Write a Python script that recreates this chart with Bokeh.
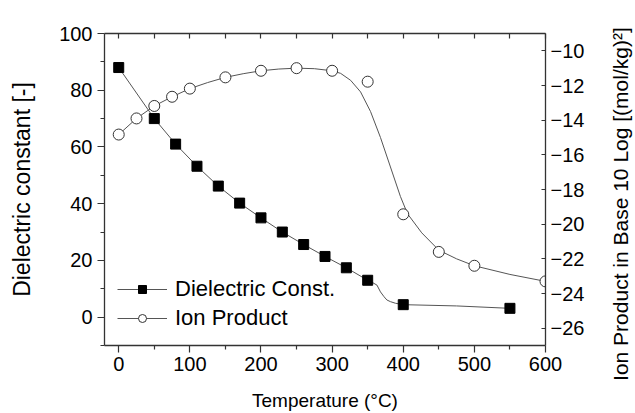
from bokeh.plotting import figure
from bokeh.layouts import row
from bokeh.models import Range1d, LinearAxis, FixedTicker, Legend, LegendItem
from bokeh.embed import file_html
from bokeh.resources import INLINE

# measured data points
temp_diel = [0, 50, 80, 110, 140, 170, 200, 230, 260, 290, 320, 350, 400, 550]
diel_const = [88, 70, 61, 53.2, 46.2, 40.2, 35, 30, 25.6, 21.4, 17.4, 13, 4.4, 3.1]
temp_ion = [0, 25, 50, 75, 100, 150, 200, 250, 300, 350, 400, 450, 500, 600]
ion_product = [-14.83, -13.9, -13.18, -12.65, -12.18, -11.53, -11.15, -11.0, -11.15,
               -11.78, -19.43, -21.6, -22.4, -23.3]

# fitted curves
diel_curve_t = [0, 50, 80, 110, 140, 170, 200, 230, 260, 290, 320, 350, 356, 363, 368,
                373, 377, 382, 389, 400, 475, 550]
diel_curve_v = [88, 70, 61, 53.2, 46.2, 40.2, 35, 30, 25.6, 21.4, 17.4, 13, 12.3, 11.3,
                8.9, 7.2, 6.05, 5.46, 4.9, 4.4, 3.95, 3.1]
ion_curve_t = [0, 25, 50, 75, 100, 125, 150, 175, 200, 225, 250, 275, 300, 312, 326, 340,
               354, 368, 382, 396, 406, 426, 450, 475, 500, 550, 600]
ion_curve_v = [-14.83, -13.9, -13.18, -12.65, -12.18, -11.83, -11.53, -11.32, -11.15,
               -11.05, -11.0, -11.03, -11.15, -11.3, -11.7, -12.37, -13.5, -15.0, -16.7,
               -18.4, -19.4, -20.5, -21.5, -22.0, -22.4, -22.9, -23.3]

x_ticks = [0, 100, 200, 300, 400, 500, 600]
x_minor = [50, 150, 250, 350, 450, 550]
y_ticks = [0, 20, 40, 60, 80, 100]
y_minor = [-10, 10, 30, 50, 70, 90]
y2_ticks = [-26, -24, -22, -20, -18, -16, -14, -12, -10]

FONT = "Liberation Sans"
AX = "#333333"

p = figure(width=600, height=413, output_backend="svg", toolbar_location=None,
           x_range=Range1d(-20, 600), y_range=Range1d(-10, 100),
           min_border_left=104, min_border_right=55, min_border_top=28, min_border_bottom=68)
p.extra_y_ranges = {"ion": Range1d(-27, -9)}
p.xgrid.visible = False
p.ygrid.visible = False
p.outline_line_color = None
p.background_fill_color = "white"


def style(ax, size="20px"):
    ax.axis_line_color = AX
    ax.axis_line_width = 1.3
    ax.major_tick_line_color = AX
    ax.minor_tick_line_color = AX
    ax.major_tick_line_width = 1.2
    ax.minor_tick_line_width = 1.2
    ax.major_label_text_font = FONT
    ax.major_label_text_font_size = size
    ax.major_label_text_color = "black"
    ax.axis_label_text_font = FONT
    ax.axis_label_text_font_style = "normal"
    ax.axis_label_text_color = "black"


xa = p.xaxis[0]
style(xa)
xa.ticker = FixedTicker(ticks=x_ticks, minor_ticks=x_minor)
xa.major_tick_out = 7
xa.major_tick_in = 0
xa.minor_tick_out = 4
xa.minor_tick_in = 0
xa.major_label_standoff = 4
xa.axis_label = "Temperature (°C)"
xa.axis_label_text_font_size = "19px"
xa.axis_label_standoff = 16

ya = p.yaxis[0]
style(ya)
ya.ticker = FixedTicker(ticks=y_ticks, minor_ticks=y_minor)
ya.major_tick_out = 7
ya.major_tick_in = 0
ya.minor_tick_out = 4
ya.minor_tick_in = 0
ya.major_label_standoff = 5
ya.axis_label = "Dielectric constant [-]"
ya.axis_label_text_font_size = "23px"
ya.axis_label_standoff = 21

top = LinearAxis(ticker=FixedTicker(ticks=[], minor_ticks=x_ticks + x_minor))
style(top)
top.minor_tick_in = 5
top.minor_tick_out = 0
top.major_tick_in = 0
top.major_tick_out = 0
p.add_layout(top, "above")

right = LinearAxis(y_range_name="ion", ticker=FixedTicker(ticks=y2_ticks, minor_ticks=[]))
style(right)
right.major_tick_in = 4
right.major_tick_out = 0
right.major_label_standoff = 5
p.add_layout(right, "right")

LINE = "#555555"
dl = p.line(diel_curve_t, diel_curve_v, line_color=LINE, line_width=1)
il = p.line(ion_curve_t, ion_curve_v, y_range_name="ion", line_color=LINE, line_width=1)
ds = p.scatter(temp_diel, diel_const, marker="square", size=10, fill_color="black",
               line_color="black")
isc = p.scatter(temp_ion, ion_product, y_range_name="ion", marker="circle", size=11,
                fill_color="white", line_color="#333333", line_width=1)

legend = Legend(items=[LegendItem(label="Dielectric Const.", renderers=[dl, ds]),
                       LegendItem(label="Ion Product", renderers=[il, isc])],
                location=(13, 14), border_line_color=None, background_fill_alpha=0,
                padding=0, margin=0, spacing=3, glyph_width=50, glyph_height=20,
                label_height=20, label_standoff=8, label_text_font=FONT,
                label_text_font_size="22px", label_text_color="black")
p.add_layout(legend, "center")

# narrow companion panel carrying the right-hand axis title (reads bottom-to-top)
q = figure(width=35, height=413, output_backend="svg", toolbar_location=None,
           x_range=Range1d(0, 1), y_range=Range1d(0, 1), x_axis_location=None,
           min_border_left=31, min_border_right=0, min_border_top=33, min_border_bottom=0)
q.xgrid.visible = False
q.ygrid.visible = False
q.outline_line_color = None
qa = q.yaxis[0]
qa.ticker = FixedTicker(ticks=[], minor_ticks=[])
qa.axis_line_color = None
qa.major_tick_out = 0
qa.major_tick_in = 0
qa.minor_tick_out = 0
qa.minor_tick_in = 0
qa.major_label_standoff = 0
qa.axis_label = "Ion Product in Base 10 Log [(mol/kg)²]" + "\u00a0" * 5
qa.axis_label_text_font = FONT
qa.axis_label_text_font_style = "normal"
qa.axis_label_text_font_size = "21px"
qa.axis_label_text_color = "black"
qa.axis_label_standoff = 0

layout = row(p, q, spacing=0)
open("out.html", "w").write(file_html(layout, INLINE))
